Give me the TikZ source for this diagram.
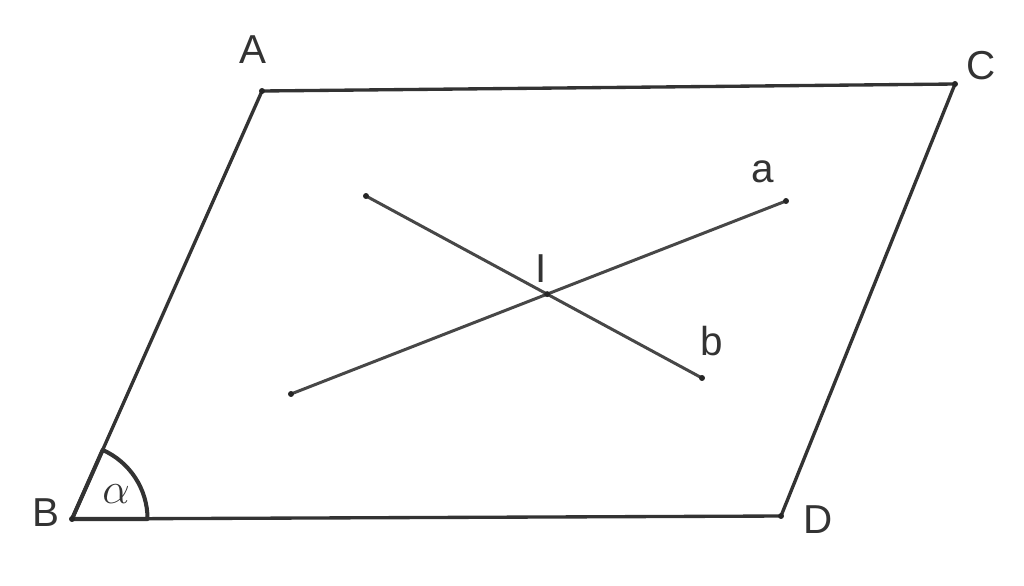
\documentclass[tikz,border=0pt]{standalone}
\usepackage{amsmath}
\usepackage{fontspec}
\setmainfont{Liberation Sans}
\usetikzlibrary{calc}
\usetikzlibrary{positioning}

\begin{document}
\begin{tikzpicture}[x=0.02cm,y=-0.02cm,
    side/.style={draw,line width=1.9pt,color=black!80,line join=round},
    stroke/.style={draw,line width=1.7pt,color=black!72},
    tip/.style={circle,fill=black!85,inner sep=0pt,minimum size=3.4pt},
    lbl/.style={font=\fontsize{23}{26}\selectfont,color=black!80,inner sep=1pt}]

  \useasboundingbox (0,0) rectangle (1024,585);

  % plane
  \coordinate (A) at (262,91);
  \coordinate (C) at (955,84);
  \coordinate (D) at (781,516);
  \coordinate (B) at (72,519);

  % the two lines
  \coordinate (a1) at (291,394);
  \coordinate (a2) at (786,201);
  \coordinate (b1) at (366,196);
  \coordinate (b2) at (702,378);
  \coordinate (I) at (intersection of a1--a2 and b1--b2);

  \path [side] (A) -- (C) -- (D) -- (B) -- cycle;

  % angle at B
  \path [draw,line width=2.3pt,color=black!80,line join=round]
    (B) -- ($(B)!43pt!(A)$) arc[start angle={atan2(519-91,262-72)},end angle=0,radius=43pt] -- cycle;

  \path [stroke]
    (a1) edge (a2)
    (b1) edge (b2);

  \foreach \p in {A,C,D,B,a1,a2,b1,b2,I}
    \node [tip] at (\p) {};

  \node [lbl] (Alab) at (253,50) {A};
  \node [lbl] (Clab) at (981,66) {C};
  \node [lbl] (Blab) at (46,513) {B};
  \node [lbl] (Dlab) at (818,520) {D};
  \node [lbl] (alab) at (763,172) {a};
  \node [lbl] (blab) at (712,341) {b};
  \node [lbl] (Ilab) at (541,269) {I};
  \node [font=\fontsize{27}{29}\selectfont,color=black!80] (alpha) at (116,494) {$\alpha$};

\end{tikzpicture}
\end{document}
